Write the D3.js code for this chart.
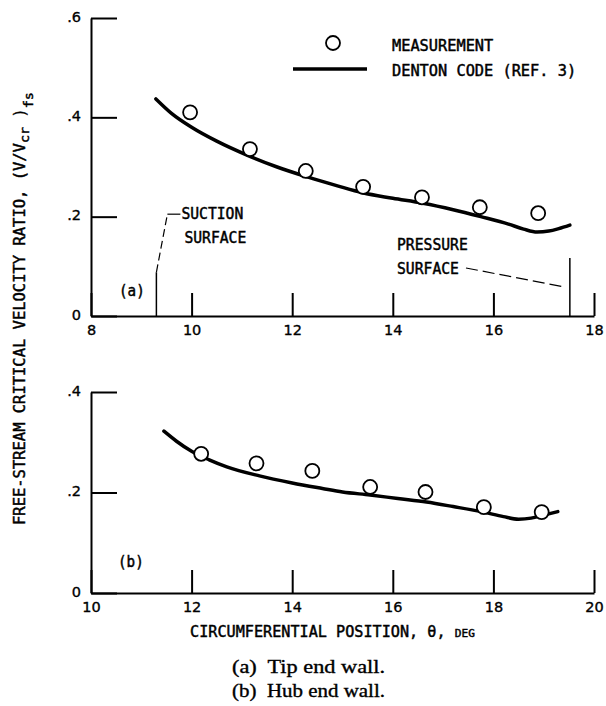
<!DOCTYPE html>
<html><head><meta charset="utf-8">
<script src="https://cdn.jsdelivr.net/npm/d3@7"></script>
<style>body{margin:0;background:#fff} svg{display:block}</style>
</head><body><svg id="c" width="606" height="706"></svg>
<script>
// ---- data ----
const tipMeasTheta = [9.97, 11.16, 12.27, 13.41, 14.58, 15.73, 16.89];
const tipMeasV     = [0.410, 0.336, 0.292, 0.260, 0.239, 0.219, 0.207];
const tipCodeTheta = [9.29, 9.6, 10.0, 10.5, 11.1, 11.7, 12.3, 12.9, 13.4, 14.0, 14.6, 15.2, 15.75, 16.3, 16.6, 16.87, 17.1, 17.3, 17.52];
const tipCodeV     = [0.437, 0.408, 0.380, 0.352, 0.324, 0.300, 0.280, 0.262, 0.248, 0.237, 0.227, 0.214, 0.200, 0.185, 0.175, 0.169, 0.171, 0.176, 0.183];
const hubMeasTheta = [12.19, 13.29, 14.40, 15.55, 16.65, 17.81, 18.96];
const hubMeasV     = [0.277, 0.258, 0.243, 0.211, 0.201, 0.171, 0.161];
const hubCodeTheta = [11.45, 11.7, 12.0, 12.35, 12.7, 13.35, 14.0, 14.6, 15.0, 15.55, 16.1, 16.67, 17.2, 17.8, 18.2, 18.5, 18.75, 19.0, 19.28];
const hubCodeV     = [0.322, 0.302, 0.282, 0.265, 0.251, 0.233, 0.219, 0.208, 0.201, 0.195, 0.188, 0.181, 0.172, 0.161, 0.152, 0.147, 0.149, 0.155, 0.162];
const tipXTicks = [8, 10, 12, 14, 16, 18];
const tipYTicks = [0, 0.2, 0.4, 0.6];
const hubXTicks = [10, 12, 14, 16, 18, 20];
const hubYTicks = [0, 0.2, 0.4];
const suctionTheta = 9.3, pressureTheta = 17.52;
const legendLabels = ["MEASUREMENT", "DENTON CODE (REF. 3)"];
const captions = ["(a)  Tip end wall.", "(b)  Hub end wall."];

// ---- setup ----
const svg = d3.select("#c");
const FONT = "'DejaVu Sans Mono', monospace";
const TICKFONT = "'DejaVu Sans', sans-serif";
const SERIF = "'Liberation Serif', 'Times New Roman', serif";
const fmt = v => v === 0 ? "0" : d3.format(".1f")(v).replace(/^0/, "");

const x1 = d3.scaleLinear().domain([8, 18]).range([91, 594]);
const y1 = d3.scaleLinear().domain([0, 0.6]).range([316, 18]);
const x2 = d3.scaleLinear().domain([10, 20]).range([91, 594]);
const y2 = d3.scaleLinear().domain([0, 0.4]).range([593, 392]);

function heavy(sel) {
  return sel.attr("font-family", FONT).attr("fill", "#000")
    .attr("stroke", "#000").attr("stroke-width", 0.45);
}

function txt(parent, s, x, y, size, sx, anchor) {
  const g = parent.append("g").attr("transform", `translate(${x},${y}) scale(${sx||1},1)`);
  return heavy(g.append("text")).attr("font-size", size)
    .attr("text-anchor", anchor || "start").text(s);
}

function panel(x, y, xt, yt, thetaL, vL, thetaM, vM) {
  const g = svg.append("g");
  const xa = g.append("g").attr("transform", `translate(0,${y(0)})`)
    .call(d3.axisBottom(x).tickValues(xt).tickSize(-23).tickSizeOuter(0).tickPadding(9).tickFormat(d3.format("d")));
  const ya = g.append("g").attr("transform", `translate(${x.range()[0]},0)`)
    .call(d3.axisLeft(y).tickValues(yt).tickSize(-26).tickSizeOuter(0).tickPadding(10).tickFormat(fmt));
  [xa, ya].forEach(a => {
    a.selectAll("path.domain").attr("stroke", "#000").attr("stroke-width", 2);
    a.selectAll(".tick line").attr("stroke", "#000").attr("stroke-width", 2);
    heavy(a.selectAll(".tick text")).attr("font-family", TICKFONT).attr("font-size", 14.5)
      .attr("stroke-width", 0.35);
  });
  ya.selectAll(".tick text").attr("dy", "0.22em");
  const pts = thetaL.map((t, i) => [t, vL[i]]);
  g.append("path").datum(pts)
    .attr("d", d3.line().x(d => x(d[0])).y(d => y(d[1])).curve(d3.curveMonotoneX))
    .attr("fill", "none").attr("stroke", "#000").attr("stroke-width", 3.5).attr("stroke-linecap", "round");
  g.selectAll("circle.m").data(thetaM.map((t, i) => [t, vM[i]])).join("circle")
    .attr("cx", d => x(d[0])).attr("cy", d => y(d[1])).attr("r", 7)
    .attr("fill", "#fff").attr("stroke", "#000").attr("stroke-width", 1.8);
  return g;
}

const gA = panel(x1, y1, tipXTicks, tipYTicks, tipCodeTheta, tipCodeV, tipMeasTheta, tipMeasV);
const gB = panel(x2, y2, hubXTicks, hubYTicks, hubCodeTheta, hubCodeV, hubMeasTheta, hubMeasV);

// surface markers (tip panel)
const xs = x1(suctionTheta), xp = x1(pressureTheta);
gA.append("line").attr("x1", xs).attr("x2", xs).attr("y1", y1(0)).attr("y2", y1(0.088))
  .attr("stroke", "#000").attr("stroke-width", 1.5);
gA.append("path").attr("d", `M${xs},${y1(0.088)} L${xs + 11},${y1(0.205)}`)
  .attr("fill", "none").attr("stroke", "#000").attr("stroke-width", 1.2).attr("stroke-dasharray", "8,4");
gA.append("path").attr("d", `M${xs + 11},${y1(0.205)} H${xs + 24}`)
  .attr("fill", "none").attr("stroke", "#000").attr("stroke-width", 1.2);
txt(gA, "SUCTION", xs + 25, 219, 15, 0.98);
txt(gA, "SURFACE", xs + 28, 243, 15, 0.98);

gA.append("line").attr("x1", xp).attr("x2", xp).attr("y1", y1(0)).attr("y2", y1(0.117))
  .attr("stroke", "#000").attr("stroke-width", 1.5);
txt(gA, "PRESSURE", 397, 250, 15, 0.98);
txt(gA, "SURFACE", 397, 274, 15, 0.98);
gA.append("path").attr("d", `M466,268 L${xp - 5},287`)
  .attr("fill", "none").attr("stroke", "#000").attr("stroke-width", 1.2).attr("stroke-dasharray", "12,5");

txt(gA, "(a)", 119, 296, 15, 0.95);
txt(gB, "(b)", 118, 567, 15, 0.95);

// legend
svg.append("circle").attr("cx", 333).attr("cy", 43).attr("r", 7)
  .attr("fill", "#fff").attr("stroke", "#000").attr("stroke-width", 1.8);
svg.append("line").attr("x1", 293).attr("x2", 367).attr("y1", 69).attr("y2", 69)
  .attr("stroke", "#000").attr("stroke-width", 3.5);
txt(svg, legendLabels[0], 392, 51, 15, 1.02);
txt(svg, legendLabels[1], 392, 76, 15, 1.02);

// y title (rotated)
{
  const g = svg.append("g").attr("transform", "translate(25,525) rotate(-90)");
  const inner = g.append("g");
  const t = heavy(inner.append("text")).attr("font-size", 15);
  t.append("tspan").text("FREE-STREAM CRITICAL VELOCITY RATIO, (V/V");
  t.append("tspan").attr("font-size", 13).attr("dy", 4).text("cr");
  t.append("tspan").attr("dy", -4).text(" )");
  t.append("tspan").attr("font-size", 13).attr("dy", 8).text("fs");
  const L = t.node().getComputedTextLength();
  inner.attr("transform", `scale(${433 / L},1)`);
}

// x title
{
  const g = svg.append("g").attr("transform", "translate(190,637)");
  const inner = g.append("g");
  const t = heavy(inner.append("text")).attr("font-size", 15);
  t.append("tspan").text("CIRCUMFERENTIAL POSITION, \u03B8, ");
  t.append("tspan").attr("font-size", 11).text("DEG");
  const L = t.node().getComputedTextLength();
  inner.attr("transform", `scale(${285 / L},1)`);
}

// captions
captions.forEach((c, i) => {
  svg.append("text").attr("x", 232).attr("y", 673 + i * 24)
    .attr("font-family", SERIF).attr("font-size", 18).attr("fill", "#000")
    .attr("stroke", "#000").attr("stroke-width", 0.35)
    .attr("textLength", 153).attr("lengthAdjust", "spacingAndGlyphs")
    .style("white-space", "pre").text(c);
});
</script></body></html>
